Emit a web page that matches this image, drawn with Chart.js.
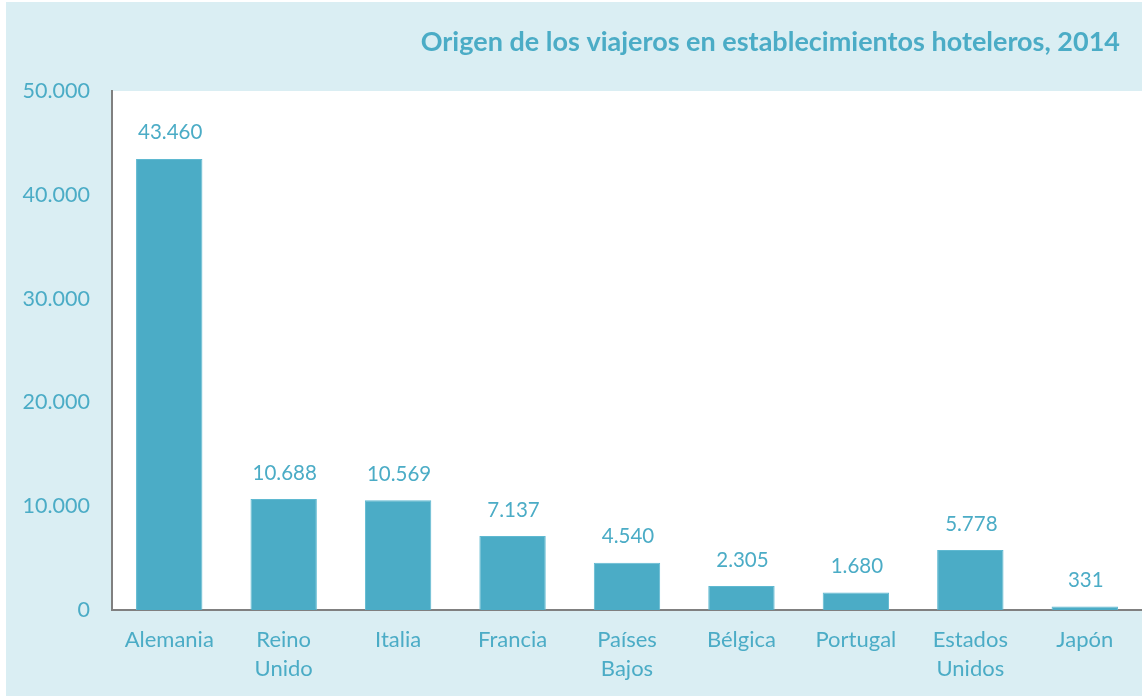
<!DOCTYPE html>
<html>
<head>
<meta charset="utf-8">
<script src="https://cdn.jsdelivr.net/npm/chart.js@4"></script>
<style>
  body { margin: 0; background: #ffffff; }
</style>
</head>
<body>
<canvas id="myChart" width="1142" height="696"></canvas>
<script>
// data
var paises = [["Alemania"], ["Reino", "Unido"], ["Italia"], ["Francia"], ["Países", "Bajos"],
              ["Bélgica"], ["Portugal"], ["Estados", "Unidos"], ["Japón"]];
var viajeros = [43460, 10688, 10569, 7137, 4540, 2305, 1680, 5778, 331];
var yTicks = [0, 10000, 20000, 30000, 40000, 50000];
var titulo = "Origen de los viajeros en establecimientos hoteleros, 2014";

var azul = "#4bacc6";
var fondo = "#daeef3";
var fuente = "Lato, 'Open Sans', sans-serif";

// 43460 -> 43.460
function puntos(n) {
  return String(n).replace(/\B(?=(\d{3})+(?!\d))/g, ".");
}

var fondoPlugin = {
  id: "fondo",
  beforeDraw: function (chart) {
    var ctx = chart.ctx;
    var a = chart.chartArea;
    ctx.save();
    ctx.fillStyle = fondo;
    ctx.fillRect(6, 2, chart.width - 6, chart.height - 2);
    ctx.fillStyle = "#ffffff";
    ctx.fillRect(a.left, a.top, a.right - a.left, a.bottom - a.top);
    // title
    ctx.fillStyle = azul;
    ctx.font = "bold 27px " + fuente;
    ctx.textAlign = "right";
    ctx.textBaseline = "middle";
    ctx.fillText(titulo, 1120, 42);
    ctx.restore();
  }
};

var etiquetasPlugin = {
  id: "etiquetas",
  afterDatasetsDraw: function (chart) {
    var ctx = chart.ctx;
    var meta = chart.getDatasetMeta(0);
    ctx.save();
    ctx.fillStyle = azul;
    ctx.font = "20.5px " + fuente;
    ctx.textAlign = "center";
    ctx.textBaseline = "middle";
    meta.data.forEach(function (bar, i) {
      ctx.fillText(puntos(viajeros[i]), bar.x + 1, bar.y - 26);
    });
    ctx.restore();
  }
};

var ctx = document.getElementById("myChart").getContext("2d");
var myChart = new Chart(ctx, {
  type: "bar",
  data: {
    labels: paises,
    datasets: [{
      data: viajeros,
      backgroundColor: azul,
      borderColor: "#5fb9d1",
      borderWidth: 1,
      barPercentage: 0.58,
      categoryPercentage: 1
    }]
  },
  options: {
    responsive: false,
    animation: false,
    layout: { padding: { top: 91, left: 0, right: 0, bottom: 0 } },
    plugins: {
      legend: { display: false },
      tooltip: { enabled: false }
    },
    scales: {
      x: {
        grid: { display: false, drawTicks: false },
        border: { color: "#808080", width: 2 },
        ticks: {
          color: azul,
          font: { family: fuente, size: 22, lineHeight: 1.32 },
          padding: 15,
          maxRotation: 0,
          autoSkip: false
        },
        afterFit: function (scale) { scale.height = 86; }
      },
      y: {
        min: 0,
        max: 50000,
        afterBuildTicks: function (scale) {
          scale.ticks = yTicks.map(function (v) { return { value: v }; });
        },
        grid: { display: false, drawTicks: false },
        border: { color: "#808080", width: 2 },
        ticks: {
          color: azul,
          font: { family: fuente, size: 21.5 },
          padding: 22,
          callback: function (v) { return puntos(v); }
        },
        afterFit: function (scale) { scale.width = 112; }
      }
    }
  },
  plugins: [fondoPlugin, etiquetasPlugin]
});
</script>
</body>
</html>
